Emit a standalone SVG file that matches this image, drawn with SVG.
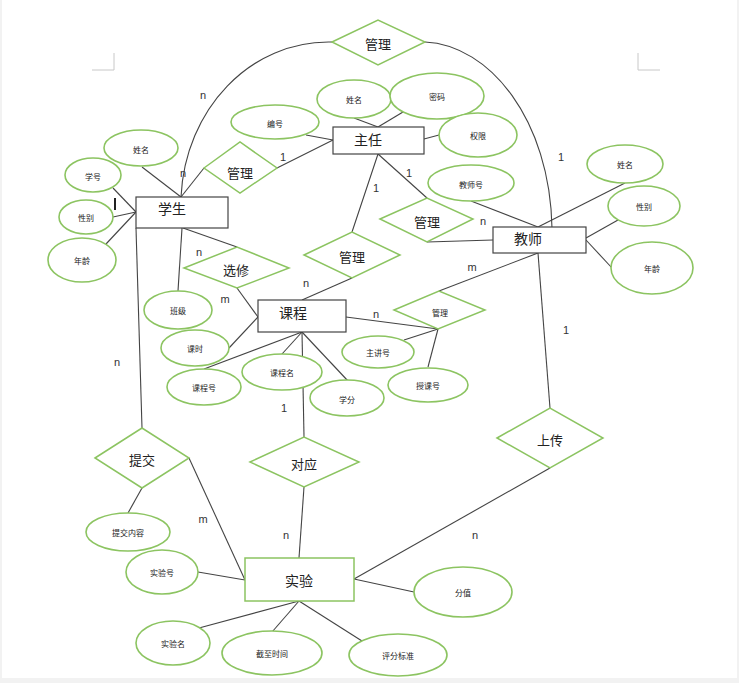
<svg xmlns="http://www.w3.org/2000/svg" width="739" height="683" viewBox="0 0 739 683">
<style>
.ent{fill:#fff;stroke:#444;stroke-width:1.2}
.ent2{fill:#fff;stroke:#8cc461;stroke-width:1.5}
.rel{fill:#fff;stroke:#8cc461;stroke-width:1.5}
.att{fill:#fff;stroke:#8cc461;stroke-width:1.6}
.ln{fill:none;stroke:#444;stroke-width:1.1}
.t{font-family:"Noto Sans CJK SC","Noto Sans",sans-serif;fill:#222;text-anchor:middle;dominant-baseline:central}
.te{font-size:14px}
.tr{font-size:13px}
.ta{font-size:8px}
.c{font-family:"Liberation Sans",Arial,sans-serif;font-size:11px;fill:#333;text-anchor:middle;dominant-baseline:central}
.pm{fill:none;stroke:#c8c8c8;stroke-width:1}
</style>
<rect x="0" y="0" width="739" height="683" fill="#f2f2f2"/>
<rect x="2" y="0" width="735" height="678" fill="#fff"/>
<path class="pm" d="M92,70 H114 V53 M638,53 V70 H660"/>

<g id="connectors">
<path class="ln" d="M332,42 C250,40 185,110 181,197"/>
<path class="ln" d="M425,42 C490,45 550,120 552,228"/>
<line class="ln" x1="181" y1="197" x2="204" y2="168"/>
<line class="ln" x1="277" y1="168" x2="333" y2="140"/>
<line class="ln" x1="142" y1="167" x2="181" y2="197"/>
<line class="ln" x1="113" y1="188" x2="136" y2="212"/>
<line class="ln" x1="113" y1="217" x2="136" y2="212"/>
<line class="ln" x1="106" y1="244" x2="136" y2="212"/>
<line x1="115" y1="198" x2="115" y2="210" stroke="#222" stroke-width="2"/>
<line class="ln" x1="136" y1="228" x2="142" y2="428"/>
<line class="ln" x1="182" y1="228" x2="178" y2="291"/>
<line class="ln" x1="183" y1="228" x2="237" y2="247"/>
<line class="ln" x1="237" y1="288" x2="258" y2="317"/>
<line class="ln" x1="229" y1="348" x2="258" y2="317"/>
<line class="ln" x1="302" y1="332" x2="204" y2="369"/>
<line class="ln" x1="302" y1="332" x2="282" y2="354"/>
<line class="ln" x1="302" y1="332" x2="348" y2="381"/>
<line class="ln" x1="302" y1="332" x2="304" y2="437"/>
<line class="ln" x1="302" y1="300" x2="352" y2="278"/>
<line class="ln" x1="352" y1="232" x2="378" y2="154"/>
<line class="ln" x1="378" y1="154" x2="427" y2="198"/>
<line class="ln" x1="427" y1="242" x2="493" y2="240"/>
<line class="ln" x1="306" y1="135" x2="333" y2="140"/>
<line class="ln" x1="354" y1="118" x2="378" y2="127"/>
<line class="ln" x1="403" y1="112" x2="378" y2="127"/>
<line class="ln" x1="439" y1="135" x2="424" y2="139"/>
<line class="ln" x1="471" y1="201" x2="538" y2="227"/>
<line class="ln" x1="625" y1="183" x2="538" y2="227"/>
<line class="ln" x1="618" y1="220" x2="586" y2="238"/>
<line class="ln" x1="612" y1="268" x2="586" y2="240"/>
<line class="ln" x1="538" y1="253" x2="439" y2="291"/>
<line class="ln" x1="538" y1="253" x2="550" y2="408"/>
<line class="ln" x1="346" y1="317" x2="438" y2="329"/>
<line class="ln" x1="438" y1="329" x2="404" y2="340"/>
<line class="ln" x1="438" y1="329" x2="428" y2="367"/>
<line class="ln" x1="142" y1="488" x2="128" y2="513"/>
<line class="ln" x1="189" y1="458" x2="245" y2="580"/>
<line class="ln" x1="198" y1="572" x2="245" y2="580"/>
<line class="ln" x1="304" y1="487" x2="299" y2="558"/>
<line class="ln" x1="550" y1="468" x2="354" y2="579"/>
<line class="ln" x1="414" y1="592" x2="354" y2="579"/>
<line class="ln" x1="299" y1="601" x2="199" y2="628"/>
<line class="ln" x1="299" y1="601" x2="272" y2="632"/>
<line class="ln" x1="299" y1="601" x2="362" y2="641"/>
</g>

<g id="labels">
<text class="c" x="203" y="95">n</text>
<text class="c" x="183" y="173">n</text>
<text class="c" x="283" y="157">1</text>
<text class="c" x="561" y="157">1</text>
<text class="c" x="376" y="188">1</text>
<text class="c" x="409" y="173">1</text>
<text class="c" x="483" y="221">n</text>
<text class="c" x="199" y="252">n</text>
<text class="c" x="225" y="299">m</text>
<text class="c" x="306" y="283">n</text>
<text class="c" x="117" y="362">n</text>
<text class="c" x="284" y="408">1</text>
<text class="c" x="472" y="267">m</text>
<text class="c" x="376" y="314">n</text>
<text class="c" x="566" y="330">1</text>
<text class="c" x="203" y="519">m</text>
<text class="c" x="286" y="535">n</text>
<text class="c" x="475" y="535">n</text>
</g>

<g id="r-manage-top"><polygon class="rel" points="332,42 378,20 425,42 378,65"/><text class="t tr" x="378" y="43">管理</text></g>
<g id="r-manage-stu"><polygon class="rel" points="204,168 240,142 277,168 240,193"/><text class="t tr" x="240" y="172">管理</text></g>
<g id="r-manage-tea"><polygon class="rel" points="380,219 427,198 473,219 427,242"/><text class="t tr" x="427" y="221">管理</text></g>
<g id="r-manage-course"><polygon class="rel" points="304,255 352,232 400,255 352,278"/><text class="t tr" x="352" y="256">管理</text></g>
<g id="r-elect"><polygon class="rel" points="184,268 237,247 289,268 237,288"/><text class="t tr" x="236" y="269">选修</text></g>
<g id="r-teach"><polygon class="rel" points="394,310 439,291 485,310 438,329"/><text class="t ta" x="440" y="312">管理</text></g>
<g id="r-submit"><polygon class="rel" points="95,458 142,428 189,458 142,488"/><text class="t tr" x="142" y="459">提交</text></g>
<g id="r-match"><polygon class="rel" points="250,462 304,437 359,462 304,487"/><text class="t tr" x="304" y="463">对应</text></g>
<g id="r-upload"><polygon class="rel" points="497,438 550,408 603,438 550,468"/><text class="t tr" x="550" y="439">上传</text></g>

<g id="e-student"><rect class="ent" x="136" y="197" width="92" height="31"/><text class="t te" x="172" y="208">学生</text></g>
<g id="e-director"><rect class="ent" x="333" y="127" width="91" height="27"/><text class="t te" x="368" y="139">主任</text></g>
<g id="e-teacher"><rect class="ent" x="493" y="227" width="93" height="26"/><text class="t te" x="528" y="238">教师</text></g>
<g id="e-course"><rect class="ent" x="258" y="300" width="88" height="32"/><text class="t te" x="293" y="312">课程</text></g>
<g id="e-lab"><rect class="ent2" x="245" y="558" width="109" height="43"/><text class="t te" x="299" y="580">实验</text></g>

<g id="a-stu-name"><ellipse class="att" cx="141" cy="148" rx="37" ry="18"/><text class="t ta" x="141" y="149">姓名</text></g>
<g id="a-stu-no"><ellipse class="att" cx="93" cy="175" rx="28" ry="17"/><text class="t ta" x="93" y="176">学号</text></g>
<g id="a-stu-sex"><ellipse class="att" cx="86" cy="217" rx="27" ry="17"/><text class="t ta" x="86" y="217">性别</text></g>
<g id="a-stu-age"><ellipse class="att" cx="82" cy="260" rx="34" ry="22"/><text class="t ta" x="82" y="260">年龄</text></g>
<g id="a-stu-class"><ellipse class="att" cx="178" cy="310" rx="34" ry="19"/><text class="t ta" x="178" y="310">班级</text></g>
<g id="a-dir-id"><ellipse class="att" cx="275" cy="122" rx="44" ry="17"/><text class="t ta" x="275" y="123">编号</text></g>
<g id="a-dir-name"><ellipse class="att" cx="354" cy="99" rx="37" ry="19"/><text class="t ta" x="354" y="99">姓名</text></g>
<g id="a-dir-pwd"><ellipse class="att" cx="437" cy="96" rx="47" ry="23"/><text class="t ta" x="437" y="96">密码</text></g>
<g id="a-dir-auth"><ellipse class="att" cx="478" cy="135" rx="39" ry="22"/><text class="t ta" x="478" y="135">权限</text></g>
<g id="a-tea-no"><ellipse class="att" cx="471" cy="183" rx="43" ry="18"/><text class="t ta" x="471" y="184">教师号</text></g>
<g id="a-tea-name"><ellipse class="att" cx="625" cy="164" rx="38" ry="19"/><text class="t ta" x="625" y="164">姓名</text></g>
<g id="a-tea-sex"><ellipse class="att" cx="644" cy="206" rx="36" ry="20"/><text class="t ta" x="644" y="206">性别</text></g>
<g id="a-tea-age"><ellipse class="att" cx="652" cy="268" rx="41" ry="26"/><text class="t ta" x="652" y="268">年龄</text></g>
<g id="a-course-hour"><ellipse class="att" cx="195" cy="348" rx="34" ry="18"/><text class="t ta" x="195" y="348">课时</text></g>
<g id="a-course-no"><ellipse class="att" cx="204" cy="387" rx="37" ry="18"/><text class="t ta" x="204" y="387">课程号</text></g>
<g id="a-course-name"><ellipse class="att" cx="282" cy="372" rx="40" ry="18"/><text class="t ta" x="282" y="372">课程名</text></g>
<g id="a-course-credit"><ellipse class="att" cx="347" cy="398" rx="37" ry="18"/><text class="t ta" x="347" y="399">学分</text></g>
<g id="a-lecturer"><ellipse class="att" cx="378" cy="352" rx="36" ry="16"/><text class="t ta" x="378" y="352">主讲号</text></g>
<g id="a-teachno"><ellipse class="att" cx="428" cy="385" rx="40" ry="17"/><text class="t ta" x="428" y="385">授课号</text></g>
<g id="a-submit-content"><ellipse class="att" cx="128" cy="532" rx="42" ry="19"/><text class="t ta" x="128" y="532">提交内容</text></g>
<g id="a-lab-no"><ellipse class="att" cx="162" cy="572" rx="36" ry="22"/><text class="t ta" x="162" y="572">实验号</text></g>
<g id="a-lab-name"><ellipse class="att" cx="173" cy="643" rx="37" ry="22"/><text class="t ta" x="173" y="643">实验名</text></g>
<g id="a-lab-deadline"><ellipse class="att" cx="272" cy="653" rx="50" ry="22"/><text class="t ta" x="272" y="653">截至时间</text></g>
<g id="a-lab-criteria"><ellipse class="att" cx="398" cy="655" rx="49" ry="21"/><text class="t ta" x="398" y="655">评分标准</text></g>
<g id="a-lab-score"><ellipse class="att" cx="463" cy="592" rx="49" ry="25"/><text class="t ta" x="463" y="592">分值</text></g>
</svg>
